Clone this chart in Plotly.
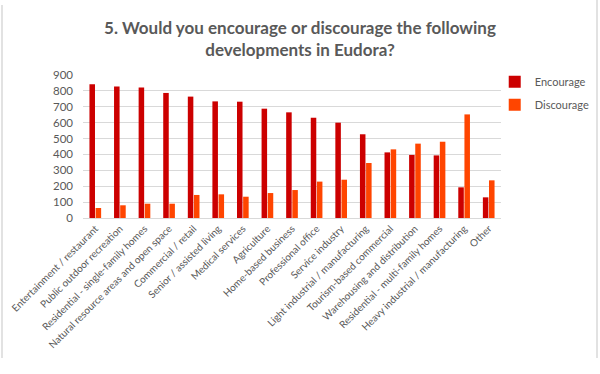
import plotly.graph_objects as go

categories = [
    "Entertainment / restaurant",
    "Public outdoor recreation",
    "Residential - single-family homes",
    "Natural resource areas and open space",
    "Commercial / retail",
    "Senior / assisted living",
    "Medical services",
    "Agriculture",
    "Home-based business",
    "Professional office",
    "Service industry",
    "Light industrial / manufacturing",
    "Tourism-based commercial",
    "Warehousing and distribution",
    "Residential - multi-family homes",
    "Heavy industrial / manufacturing",
    "Other",
]
encourage = [841, 827, 822, 787, 764, 734, 732, 688, 665, 631, 600, 527, 413, 397, 394, 193, 130]
discourage = [63, 80, 90, 90, 145, 149, 134, 157, 176, 229, 241, 346, 432, 468, 480, 652, 237]
y_ticks = [0, 100, 200, 300, 400, 500, 600, 700, 800, 900]

grey = "#595959"
font_family = "Lato, 'Open Sans', sans-serif"

fig = go.Figure()
fig.add_trace(go.Bar(name="Encourage", x=categories, y=encourage, marker_color="#cc0000",
                     marker_line_width=0, legendgroup="a"))
fig.add_trace(go.Bar(name="Discourage", x=categories, y=discourage, marker_color="#ff4500",
                     marker_line_width=0, legendgroup="b"))

fig.update_layout(
    width=600, height=374,
    margin=dict(l=83, r=99, t=75, b=156, autoexpand=False),
    paper_bgcolor="white", plot_bgcolor="white",
    barmode="group", bargap=0.5, bargroupgap=0.1,
    font=dict(family=font_family, color=grey, size=11),
    title=dict(
        text="<b>5. Would you encourage or discourage the following<br>developments in Eudora?</b>",
        x=0.5, xanchor="center", y=0.909, yanchor="middle",
        font=dict(size=17, color=grey, family=font_family),
    ),
    legend=dict(x=0.985, y=1.055, xanchor="left", yanchor="top",
                font=dict(size=11, color=grey), itemwidth=30, tracegroupgap=4,
                bgcolor="rgba(0,0,0,0)"),
    showlegend=True,
)
fig.update_xaxes(tickangle=-45, showline=True, linecolor="#d9d9d9", ticks="",
                 tickfont=dict(size=10, color=grey), showgrid=False, automargin=False)
fig.update_yaxes(range=[0, 900], tickvals=y_ticks, showgrid=True, gridcolor="#d9d9d9",
                 zeroline=False, showline=False, ticks="", automargin=False,
                 ticklabelstandoff=9, tickfont=dict(size=11.5, color=grey))

fig.add_shape(type="line", xref="paper", yref="paper",
              x0=(2-83)/418, x1=(2-83)/418, y0=(218-358)/143, y1=(218-5)/143,
              line=dict(color="#d9d9d9", width=1.5))
fig.add_shape(type="line", xref="paper", yref="paper",
              x0=(597-83)/418, x1=(597-83)/418, y0=(218-358)/143, y1=(218-0)/143,
              line=dict(color="#d9d9d9", width=1.5))

fig.write_html("out.html", config={"displayModeBar": False},
               post_script="document.body.style.margin='0px';")
